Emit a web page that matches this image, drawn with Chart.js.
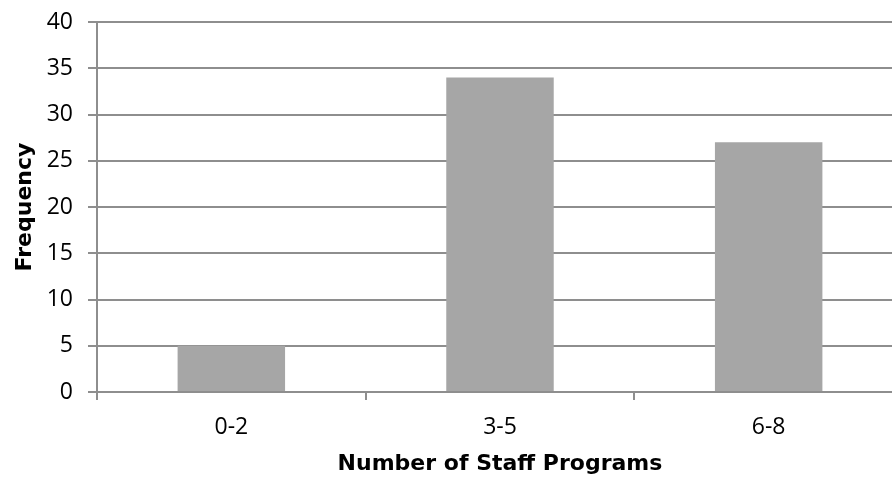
<!DOCTYPE html>
<html>
<head>
<meta charset="utf-8">
<script src="https://cdn.jsdelivr.net/npm/chart.js@4/dist/chart.umd.min.js"></script>
<style>
  html, body { margin: 0; padding: 0; background: #fff; overflow: hidden; }
  #wrap { width: 903px; height: 477px; position: relative; }
</style>
</head>
<body>
<div id="wrap"><canvas id="chart"></canvas></div>
<script>
// Frequency of respondents by number of staff programs
const categories = ['0-2', '3-5', '6-8'];
const frequency = [5, 34, 27];
const yTicks = [0, 5, 10, 15, 20, 25, 30, 35, 40];

const GRID = '#8e8e8e';
const BAR = '#a6a6a6';

new Chart(document.getElementById('chart'), {
  type: 'bar',
  data: {
    labels: categories,
    datasets: [{
      data: frequency,
      backgroundColor: BAR,
      borderWidth: 0,
      barPercentage: 0.8,
      categoryPercentage: 0.5
    }]
  },
  options: {
    responsive: true,
    maintainAspectRatio: false,
    animation: false,
    layout: { padding: { top: 22, right: 0, bottom: 0, left: 0 } },
    plugins: { legend: { display: false }, tooltip: { enabled: false } },
    scales: {
      x: {
        offset: true,
        grid: {
          offset: true,
          drawOnChartArea: false,
          drawTicks: true,
          tickLength: 8,
          color: GRID,
          lineWidth: 2
        },
        border: { display: true, color: GRID, width: 2 },
        ticks: {
          color: '#000',
          padding: 14,
          font: { family: '"Open Sans", sans-serif', size: 23 }
        },
        title: {
          display: true,
          text: 'Number of Staff Programs',
          color: '#000',
          padding: { top: 0, bottom: 0 },
          font: { family: '"DejaVu Sans", sans-serif', size: 22, weight: 'bold' }
        },
        afterFit: (s) => { s.height = 85; }
      },
      y: {
        min: 0,
        max: 40,
        afterBuildTicks: (s) => { s.ticks = yTicks.map(v => ({ value: v })); },
        grid: {
          color: GRID,
          lineWidth: 2,
          drawTicks: true,
          tickLength: 9
        },
        border: { display: true, color: GRID, width: 2 },
        ticks: {
          color: '#000',
          padding: 15,
          // single-line labels: a tight line height keeps the top label from padding the plot
          font: { family: '"Open Sans", sans-serif', size: 23, lineHeight: 0.5 }
        },
        title: {
          display: true,
          text: 'Frequency',
          color: '#000',
          padding: { top: 12, bottom: 0 },
          font: { family: '"DejaVu Sans", sans-serif', size: 22, weight: 'bold' }
        },
        afterFit: (s) => { s.width = 97; }
      }
    }
  }
});
</script>
</body>
</html>
